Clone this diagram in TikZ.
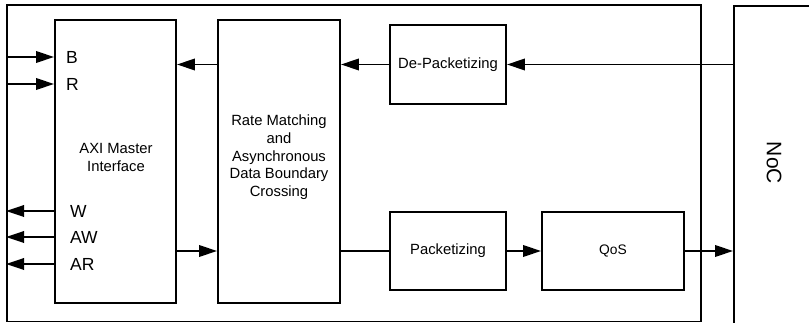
\documentclass[tikz,border=0pt]{standalone}
\usepackage{fontspec}
\setmainfont{Liberation Sans}
\usetikzlibrary{arrows.meta}
\begin{document}
\begin{tikzpicture}[x=1pt,y=-1pt,
  blk/.style={draw=black, line width=1.9pt, inner sep=0pt},
  arr/.style={line width=1.9pt,-{Triangle[length=18pt,width=11.5pt]}},
  ln/.style={line width=1.9pt},
  txt/.style={font=\fontsize{14.8}{17.7}\selectfont, align=center},
  sig/.style={font=\fontsize{17.5}{20}\selectfont, anchor=west, inner sep=0pt}
]
\useasboundingbox (0,0) rectangle (809,323);
\clip (0,0) rectangle (809,323);
\node[blk, minimum width=694pt, minimum height=316.5pt] (outer) at (354,163.25) {};
\node[blk, minimum width=121pt, minimum height=283pt] (axi) at (115.5,161.5) {};
\node[txt] (axit) at (116,157.5) {AXI Master\\Interface};
\node[blk, minimum width=122pt, minimum height=283pt] (rate) at (279,161.5) {};
\node[txt] (ratet) at (279,157.3) {Rate Matching\\and\\Asynchronous\\Data Boundary\\Crossing};
\node[blk, txt, minimum width=116pt, minimum height=79pt] (depack) at (448,64.5) {De-Packetizing};
\node[blk, txt, minimum width=116pt, minimum height=78pt] (pack) at (448,251) {Packetizing};
\node[blk, font=\fontsize{13.8}{16}\selectfont, minimum width=142pt, minimum height=78pt] (qos) at (613,251) {QoS};
\node[blk, minimum width=120pt, minimum height=400pt] (noc) at (794,206) {};
\node[font=\fontsize{21}{24}\selectfont, rotate=-90] (noct) at (774,163) {NoC};
% connectors
\draw[arr] (depack.east -| noc.west) -- (depack.east);
\draw[arr] (depack.west) -- (depack.west -| rate.east);
\draw[arr] (depack.west -| rate.west) -- (depack.west -| axi.east);
\draw[arr] (pack.west -| axi.east) -- (pack.west -| rate.west);
\draw[ln] (pack.west -| rate.east) -- (pack.west);
\draw[arr] (pack.east) -- (qos.west);
\draw[arr] (qos.east) -- (qos.east -| noc.west);
% signals
\node[sig] (b) at (66,57) {B};
\node[sig] (r) at (66,84) {R};
\node[sig] (w) at (70,211) {W};
\node[sig] (aw) at (70,237) {AW};
\node[sig] (ar) at (70,264) {AR};
\draw[arr] (b.west -| outer.west) -- (b.west -| axi.west);
\draw[arr] (r.west -| outer.west) -- (r.west -| axi.west);
\draw[arr] (w.west -| axi.west) -- (w.west -| outer.west);
\draw[arr] (aw.west -| axi.west) -- (aw.west -| outer.west);
\draw[arr] (ar.west -| axi.west) -- (ar.west -| outer.west);
\end{tikzpicture}
\end{document}
